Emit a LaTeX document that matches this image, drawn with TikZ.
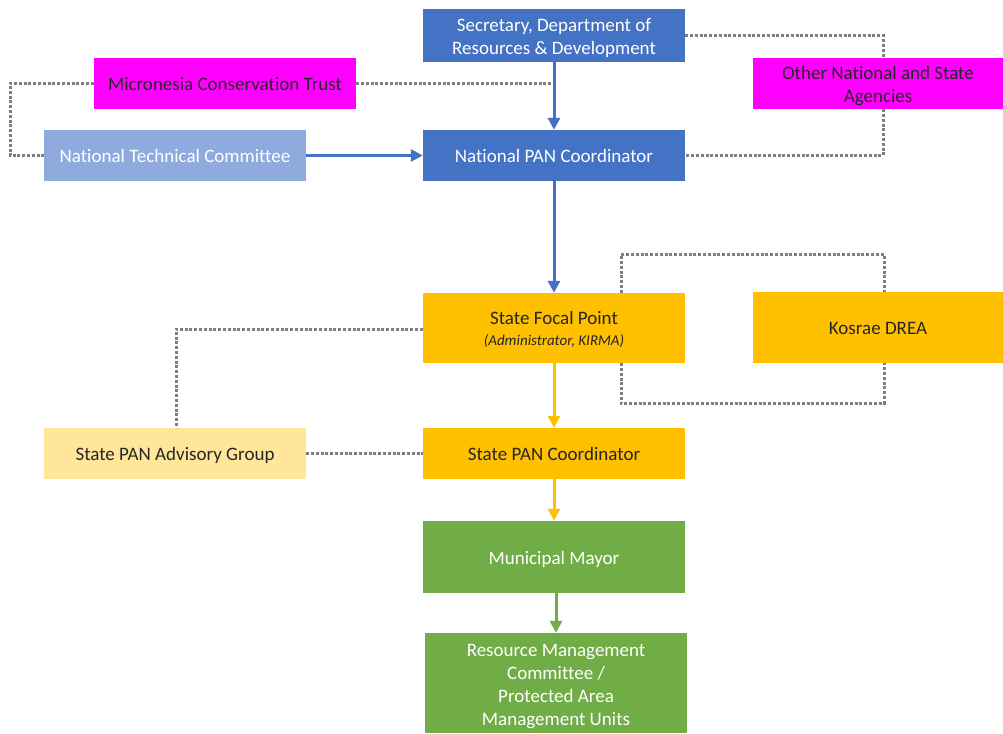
\documentclass[tikz,border=0pt]{standalone}
\usepackage{fontspec}
\setmainfont{Carlito}[Ligatures={NoCommon}]
\usetikzlibrary{arrows.meta,calc}
\definecolor{cblue}{HTML}{4472C4}
\definecolor{clblue}{HTML}{8FAADC}
\definecolor{cmag}{HTML}{FF00FF}
\definecolor{cgold}{HTML}{FFC000}
\definecolor{clgold}{HTML}{FFE699}
\definecolor{cgreen}{HTML}{70AD47}
\definecolor{cdot}{HTML}{7F7F7F}
\definecolor{ctext}{HTML}{262626}
\newcommand\liftline[1]{\rule{0pt}{#1}}
\tikzset{
  box/.style={draw=none, inner sep=0pt, align=center, minimum width=262pt, minimum height=51pt,
    font=\fontsize{19}{23}\selectfont},
  oneline/.style={text height=16pt, text depth=2pt},
  bluebox/.style={box, fill=cblue, text=white},
  lbluebox/.style={box, fill=clblue, text=white},
  magbox/.style={box, fill=cmag, text=ctext, minimum width=250pt},
  goldbox/.style={box, fill=cgold, text=ctext},
  lgoldbox/.style={box, fill=clgold, text=ctext},
  greenbox/.style={box, fill=cgreen, text=white},
  dotline/.style={draw=cdot, line width=3pt, dash pattern=on 3pt off 1.8pt},
  arr/.style={line width=3pt, -{Triangle[width=12pt,length=12pt]}},
}
\begin{document}
\begin{tikzpicture}[x=1pt,y=-1pt]
\useasboundingbox (0,0) rectangle (1003,733);
\node[bluebox, minimum height=53pt] (sec) at (554,35.5) {\liftline{18pt}Secretary, Department of\\Resources \& Development};
\node[magbox, oneline, minimum width=262pt] (mct) at (225,83.5) {Micronesia Conservation Trust};
\node[magbox] (oth) at (878,83.5) {\liftline{18pt}Other National and State\\Agencies};
\node[lbluebox, oneline] (ntc) at (175,155.5) {National Technical Committee};
\node[bluebox, oneline] (npc) at (554,155.5) {National PAN Coordinator};
\node[goldbox, minimum height=70pt] (sfp) at (554,328) {\liftline{16pt}State Focal Point\\[-2pt]{\fontsize{15}{20}\selectfont\itshape (Administrator, KIRMA)}};
\node[goldbox, oneline, minimum width=250pt, minimum height=71pt] (kos) at (878,327.5) {Kosrae DREA};
\node[lgoldbox, oneline] (spag) at (175,453.5) {State PAN Advisory Group};
\node[goldbox, oneline] (spc) at (554,453.5) {State PAN Coordinator};
\node[greenbox, oneline, minimum height=72pt] (mm) at (554,557) {Municipal Mayor};
\node[greenbox, minimum height=100pt] (rmc) at (556,683) {\liftline{20pt}Resource Management\\Committee /\\Protected Area\\Management Units};

% dotted links
\coordinate (mctl) at (10,83.5);
\draw[dotline] (mct.west) -- (mctl) |- (ntc.west);
\draw[dotline] (mct.east) -- (sec.south |- mct.east);
\draw[dotline] (sec.east) -| ([xshift=5]oth.north);
\draw[dotline] ([xshift=5]oth.south) |- (npc.east);
\draw[dotline] ([xshift=67]sfp.north) -- ++(0,-38) -| ([xshift=6]kos.north);
\draw[dotline] ([xshift=67]sfp.south) -- ++(0,40) -| ([xshift=6]kos.south);
\draw[dotline] ([yshift=-1]sfp.west) -| ([xshift=1]spag.north);
\draw[dotline] (spag.east) -- (spc.west);

% arrows
\draw[arr, cblue] (sec) -- (npc);
\draw[arr, cblue] (ntc) -- (npc);
\draw[arr, cblue] (npc) -- (sfp);
\draw[arr, cgold] (sfp) -- (spc);
\draw[arr, cgold] (spc) -- (mm);
\draw[arr, cgreen] ([xshift=2]mm.south) -- (rmc.north);
\end{tikzpicture}
\end{document}
